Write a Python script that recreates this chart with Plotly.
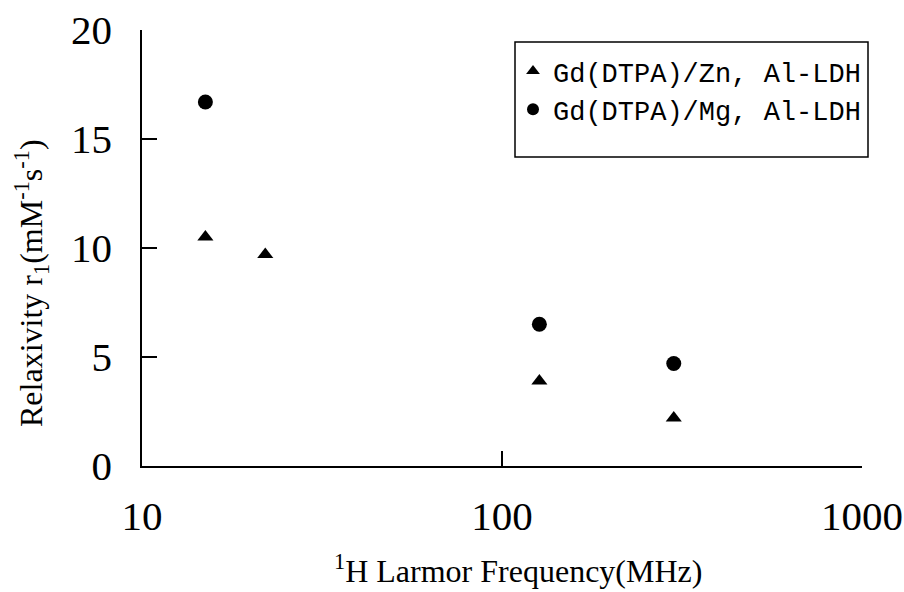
import plotly.graph_objects as go

# Data
zn_freq = [15, 22, 127, 300]
zn_r1 = [10.5, 9.7, 3.9, 2.2]
mg_freq = [15, 127, 300]
mg_r1 = [16.7, 6.5, 4.7]

x_ticks = [10, 100, 1000]
x_ticklabels = ["10", "100", "1000"]
y_ticks = [0, 5, 10, 15, 20]

W, H = 904, 592
L, R, T, B = 142, 42, 30, 126
pw, ph = W - L - R, H - T - B

def px(xpix):
    return (xpix - L) / pw

def py(ypix):
    return (H - B - ypix) / ph

fig = go.Figure()
fig.add_trace(go.Scatter(
    x=zn_freq, y=zn_r1, mode="markers", name="Gd(DTPA)/Zn, Al-LDH",
    marker=dict(symbol="triangle-up", size=14, color="black"),
))
fig.add_trace(go.Scatter(
    x=mg_freq, y=mg_r1, mode="markers", name="Gd(DTPA)/Mg, Al-LDH",
    marker=dict(symbol="circle", size=15, color="black"),
))

tickfont = dict(family="Liberation Serif", size=41, color="black")

fig.update_xaxes(
    type="log", range=[1, 3], tickvals=x_ticks, ticktext=x_ticklabels,
    ticks="inside", ticklen=15, tickwidth=1.5, tickcolor="black",
    showline=True, linecolor="black", linewidth=1.5, showgrid=False,
    zeroline=False, tickfont=tickfont, ticklabelstandoff=13, automargin=False,
)
fig.update_yaxes(
    range=[0, 20], tickvals=y_ticks,
    ticks="inside", ticklen=15, tickwidth=1.5, tickcolor="black",
    showline=True, linecolor="black", linewidth=1.5, showgrid=False,
    zeroline=False, tickfont=tickfont, ticklabelstandoff=20, automargin=False,
)

# legend box
fig.add_shape(type="rect", xref="paper", yref="paper",
              x0=px(515), x1=px(868), y0=py(157), y1=py(42),
              line=dict(color="black", width=1.5), fillcolor="rgba(0,0,0,0)")

fig.add_annotation(
    text="<sup>1</sup>H Larmor Frequency(MHz)", xref="paper", yref="paper",
    x=px(518), y=py(569), xanchor="center", yanchor="middle", showarrow=False,
    font=dict(family="Liberation Serif", size=32, color="black"),
)
fig.add_annotation(
    text="Relaxivity r<sub>1</sub>(mM<sup>-1</sup>s<sup>-1</sup>)", xref="paper", yref="paper",
    x=px(31), y=py(283), xanchor="center", yanchor="middle", showarrow=False,
    textangle=-90,
    font=dict(family="Liberation Serif", size=32, color="black"),
)

fig.update_layout(
    width=W, height=H,
    margin=dict(l=L, r=R, t=T, b=B, autoexpand=False),
    paper_bgcolor="white", plot_bgcolor="white",
    showlegend=True,
    legend=dict(
        x=px(513), y=py(47), xanchor="left", yanchor="top",
        bgcolor="rgba(0,0,0,0)", borderwidth=0,
        font=dict(family="Liberation Mono", size=27, color="black"),
        itemsizing="constant",
    ),
)

fig.write_html("out.html", config={"displayModeBar": False},
               post_script="document.body.style.margin='0';document.body.style.overflow='hidden';")
